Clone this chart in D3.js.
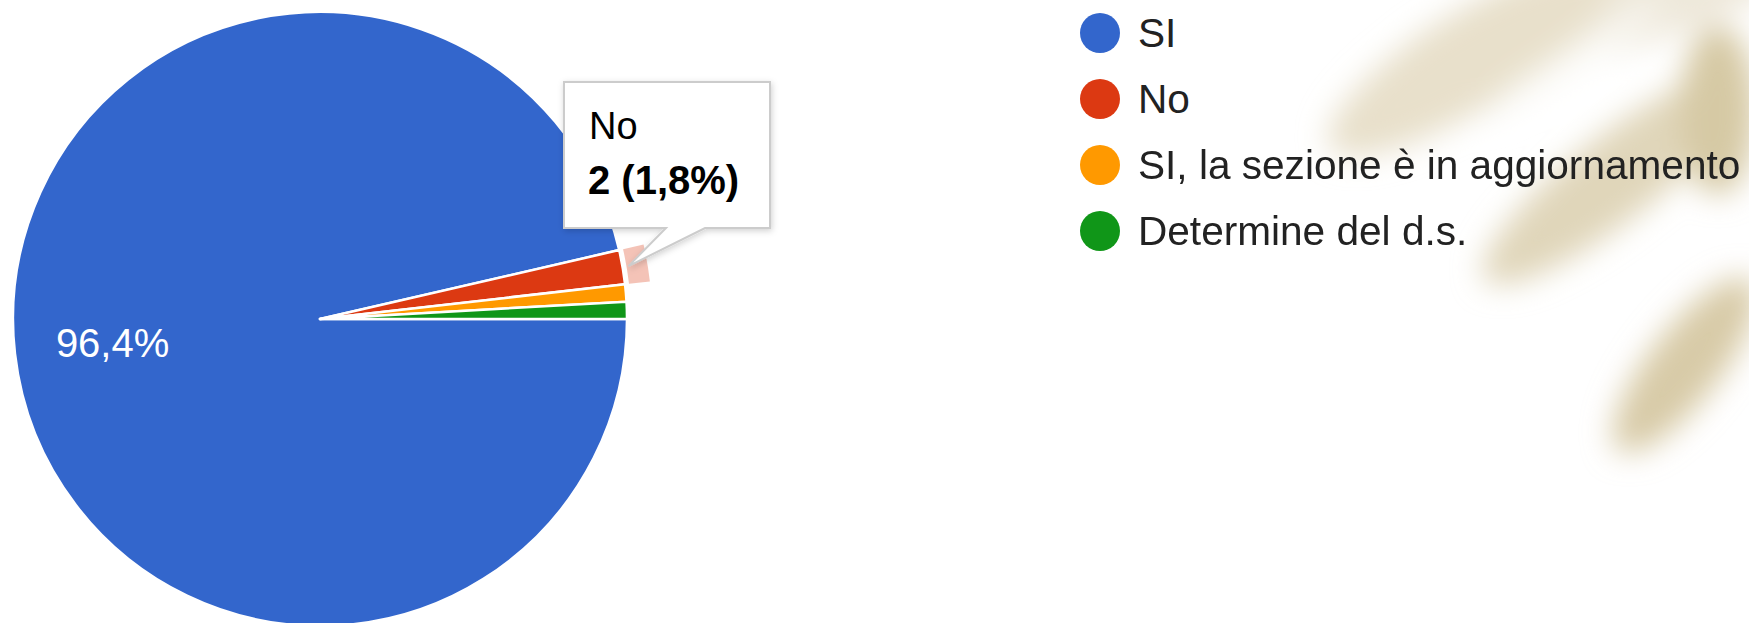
<!DOCTYPE html>
<html>
<head>
<meta charset="utf-8">
<script src="https://d3js.org/d3.v7.min.js"></script>
<style>
  body { margin: 0; background: #fff; }
  svg { display: block; font-family: "Liberation Sans", Arial, sans-serif; }
</style>
</head>
<body>
<div id="chart"></div>
<script>
// answers and counts
const categories = ['SI', 'No', 'SI, la sezione è in aggiornamento', 'Determine del d.s.'];
const counts = [107, 2, 1, 1];
const colors = ['#3366cc', '#dc3912', '#ff9900', '#109618'];
const hoveredIndex = 1; // the "No" slice has the tooltip open

const W = 1749, H = 623;
const cx = 320, cy = 319, radius = 307;

const it = d3.formatLocale({ decimal: ',', thousands: '.', grouping: [3], currency: ['€', ''] });
const pct = it.format('.1%');

const svg = d3.select('#chart').append('svg')
  .attr('width', W)
  .attr('height', H);

const defs = svg.append('defs');
defs.append('filter').attr('id', 'blur')
  .attr('x', '-50%').attr('y', '-50%').attr('width', '200%').attr('height', '200%')
  .append('feGaussianBlur').attr('stdDeviation', 15);

const shadow = defs.append('filter').attr('id', 'shadow')
  .attr('x', '-20%').attr('y', '-20%').attr('width', '140%').attr('height', '150%');
shadow.append('feDropShadow')
  .attr('dx', 1).attr('dy', 2).attr('stdDeviation', 3)
  .attr('flood-color', '#000').attr('flood-opacity', 0.18);

svg.append('rect').attr('width', W).attr('height', H).attr('fill', '#fff');

// blurred beige decoration in the background (top right)
const deco = svg.append('g').attr('filter', 'url(#blur)');
const blobs = [
  { x: 1600, y: 10, rx: 210, ry: 45, rot: -15, c: '#eee8da' },
  { x: 1470, y: 60, rx: 165, ry: 48, rot: -32, c: '#e8e0cb' },
  { x: 1570, y: 62, rx: 110, ry: 12, rot: -32, c: '#fbfaf6' },
  { x: 1615, y: 178, rx: 165, ry: 42, rot: -38, c: '#e0d6ba' },
  { x: 1718, y: 110, rx: 38, ry: 85, rot: 0, c: '#d6c9a4' },
  { x: 1685, y: 365, rx: 108, ry: 36, rot: -52, c: '#d8cba7' }
];
blobs.forEach(b => {
  deco.append('ellipse')
    .attr('cx', b.x).attr('cy', b.y).attr('rx', b.rx).attr('ry', b.ry)
    .attr('transform', `rotate(${b.rot},${b.x},${b.y})`)
    .attr('fill', b.c);
});

const data = categories.map((name, i) => ({ name, value: counts[i], color: colors[i] }));
const total = d3.sum(counts);

const pie = d3.pie()
  .sort(null)
  .value(d => d.value)
  .startAngle(Math.PI / 2)
  .endAngle(Math.PI / 2 + 2 * Math.PI);

const arcs = pie(data);
const arc = d3.arc().innerRadius(0).outerRadius(radius);
const labelArc = d3.arc().innerRadius(radius * 0.68).outerRadius(radius * 0.68);

const g = svg.append('g').attr('transform', `translate(${cx},${cy})`);

g.selectAll('path.slice')
  .data(arcs)
  .enter()
  .append('path')
  .attr('class', 'slice')
  .attr('d', arc)
  .attr('fill', d => d.data.color)
  .attr('stroke', '#fff')
  .attr('stroke-width', 2.5)
  .attr('stroke-linejoin', 'round');

// hover ring round the highlighted slice
const hov = arcs[hoveredIndex];
g.append('path')
  .attr('d', d3.arc().innerRadius(radius + 4).outerRadius(radius + 25)(hov))
  .attr('fill', hov.data.color)
  .attr('fill-opacity', 0.3);

// percentage labels on the slices big enough to carry one
g.selectAll('text.pct')
  .data(arcs.filter(d => d.endAngle - d.startAngle > 0.5))
  .enter()
  .append('text')
  .attr('class', 'pct')
  .attr('x', d => labelArc.centroid(d)[0])
  .attr('y', d => labelArc.centroid(d)[1])
  .attr('dy', '0.35em')
  .attr('text-anchor', 'middle')
  .attr('fill', '#fff')
  .attr('font-size', 40)
  .text(d => pct(d.value / total));

// legend
const legend = svg.append('g');
const rowY = d3.scalePoint().domain(categories).range([33, 231]);
const rows = legend.selectAll('g.row')
  .data(data)
  .enter()
  .append('g')
  .attr('class', 'row')
  .attr('transform', d => `translate(1100,${rowY(d.name)})`);
rows.append('circle').attr('r', 20).attr('fill', d => d.color);
rows.append('text')
  .attr('x', 38)
  .attr('dy', '0.35em')
  .attr('font-size', 40.6)
  .attr('fill', '#222')
  .text(d => d.name);

// tooltip for the hovered slice
const tip = svg.append('g').attr('filter', 'url(#shadow)');
const box = { x: 564, y: 82, w: 206, h: 146 };
const tailL = 666, tailR = 705;
const tipPt = d3.arc().innerRadius(radius + 6).outerRadius(radius + 6).centroid(hov);
const tx = cx + tipPt[0], ty = cy + tipPt[1];
const outline = [
  [box.x, box.y], [box.x + box.w, box.y], [box.x + box.w, box.y + box.h],
  [tailR, box.y + box.h], [tx, ty], [tailL, box.y + box.h], [box.x, box.y + box.h]
];
tip.append('path')
  .attr('d', d3.line()(outline) + 'Z')
  .attr('fill', '#fff')
  .attr('stroke', '#cccccc')
  .attr('stroke-width', 2);

svg.append('text')
  .attr('x', 589).attr('y', 139)
  .attr('font-size', 38)
  .attr('fill', '#000')
  .text(hov.data.name);
svg.append('text')
  .attr('x', 588).attr('y', 194)
  .attr('font-size', 40)
  .attr('font-weight', 'bold')
  .attr('fill', '#000')
  .text(`${hov.data.value} (${pct(hov.data.value / total)})`);
</script>
</body>
</html>
